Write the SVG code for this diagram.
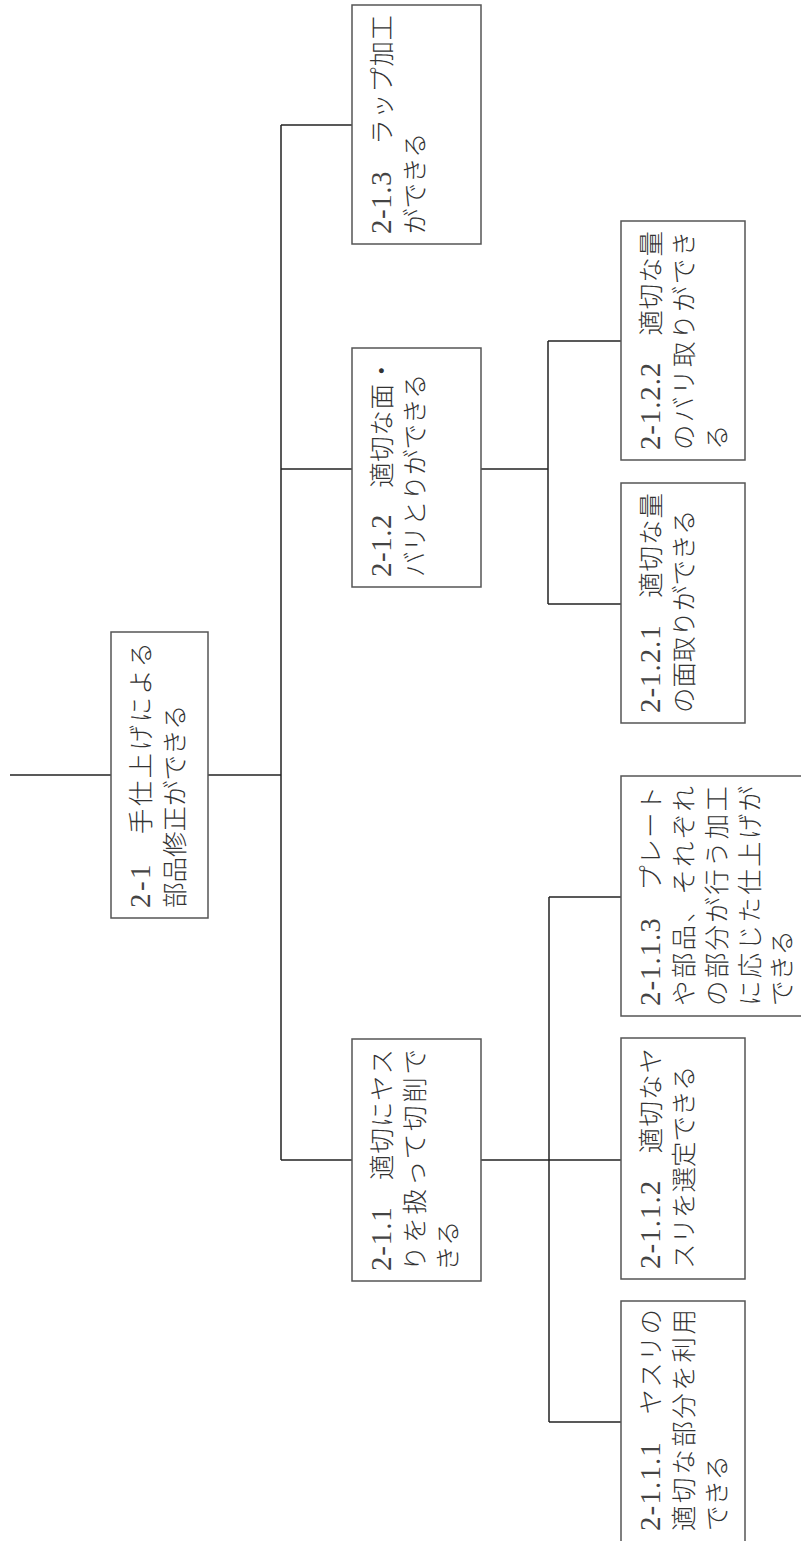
<svg xmlns="http://www.w3.org/2000/svg" width="801" height="1541" viewBox="0 0 801 1541">
<style>
.box{fill:#fff;stroke:#555;stroke-width:1.5}
.conn line{stroke:#222;stroke-width:1.5;fill:none}
text{font-family:"Noto Sans CJK JP","Liberation Serif",sans-serif;font-size:25.5px;font-weight:300;fill:#333}
.n{font-family:"Liberation Serif",serif;font-size:29px;font-weight:300;fill:#444}
</style>
<rect width="801" height="1541" fill="#fff"/>
<g id="connectors" class="conn">
<line x1="10" y1="775" x2="111" y2="775"/>
<line x1="208" y1="775" x2="281" y2="775"/>
<line x1="281" y1="125" x2="281" y2="1160"/>
<line x1="281" y1="125" x2="352" y2="125"/>
<line x1="281" y1="469" x2="352" y2="469"/>
<line x1="281" y1="1160" x2="352" y2="1160"/>
<line x1="481" y1="469" x2="548" y2="469"/>
<line x1="548" y1="341" x2="548" y2="604"/>
<line x1="548" y1="341" x2="621" y2="341"/>
<line x1="548" y1="604" x2="621" y2="604"/>
<line x1="481" y1="1160" x2="621" y2="1160"/>
<line x1="549" y1="897" x2="549" y2="1422"/>
<line x1="549" y1="897" x2="621" y2="897"/>
<line x1="549" y1="1422" x2="621" y2="1422"/>
</g>
<g id="n2-1">
<rect class="box" x="111" y="632" width="97" height="286"/>
<text transform="rotate(-90)" x="-908" y="149.7" textLength="266" lengthAdjust="spacing"><tspan class="n">2-1</tspan>　手仕上げによる</text>
<text transform="rotate(-90)" x="-908" y="183.7">部品修正ができる</text>
</g>
<g id="n2-1-3">
<rect class="box" x="352" y="5" width="129" height="239"/>
<text transform="rotate(-90)" x="-234" y="390.7" textLength="219" lengthAdjust="spacing"><tspan class="n">2-1.3</tspan>　ラップ加工</text>
<text transform="rotate(-90)" x="-234" y="423.7">ができる</text>
</g>
<g id="n2-1-2">
<rect class="box" x="352" y="348" width="129" height="239"/>
<text transform="rotate(-90)" x="-577" y="390.7" textLength="219" lengthAdjust="spacing"><tspan class="n">2-1.2</tspan>　適切な面・</text>
<text transform="rotate(-90)" x="-577" y="423.7">バリとりができる</text>
</g>
<g id="n2-1-1">
<rect class="box" x="352" y="1039" width="129" height="242"/>
<text transform="rotate(-90)" x="-1271" y="390.7" textLength="222" lengthAdjust="spacing"><tspan class="n">2-1.1</tspan>　適切にヤス</text>
<text transform="rotate(-90)" x="-1271" y="423.7" textLength="222" lengthAdjust="spacing">りを扱って切削で</text>
<text transform="rotate(-90)" x="-1271" y="456.7">きる</text>
</g>
<g id="n2-1-2-2">
<rect class="box" x="621" y="221" width="124" height="239"/>
<text transform="rotate(-90)" x="-450" y="659.7" textLength="219" lengthAdjust="spacing"><tspan class="n">2-1.2.2</tspan>　適切な量</text>
<text transform="rotate(-90)" x="-450" y="692.7" textLength="219" lengthAdjust="spacing">のバリ取りができ</text>
<text transform="rotate(-90)" x="-450" y="725.7">る</text>
</g>
<g id="n2-1-2-1">
<rect class="box" x="621" y="483" width="124" height="240"/>
<text transform="rotate(-90)" x="-713" y="659.7" textLength="220" lengthAdjust="spacing"><tspan class="n">2-1.2.1</tspan>　適切な量</text>
<text transform="rotate(-90)" x="-713" y="692.7">の面取りができる</text>
</g>
<g id="n2-1-1-3">
<rect class="box" x="621" y="776" width="190" height="240"/>
<text transform="rotate(-90)" x="-1006" y="659.7" textLength="220" lengthAdjust="spacing"><tspan class="n">2-1.1.3</tspan>　プレート</text>
<text transform="rotate(-90)" x="-1006" y="692.7" textLength="220" lengthAdjust="spacing">や部品、それぞれ</text>
<text transform="rotate(-90)" x="-1006" y="725.7" textLength="220" lengthAdjust="spacing">の部分が行う加工</text>
<text transform="rotate(-90)" x="-1006" y="758.7" textLength="220" lengthAdjust="spacing">に応じた仕上げが</text>
<text transform="rotate(-90)" x="-1006" y="790.7">できる</text>
</g>
<g id="n2-1-1-2">
<rect class="box" x="621" y="1038" width="124" height="241"/>
<text transform="rotate(-90)" x="-1269" y="659.7" textLength="221" lengthAdjust="spacing"><tspan class="n">2-1.1.2</tspan>　適切なヤ</text>
<text transform="rotate(-90)" x="-1269" y="692.7">スリを選定できる</text>
</g>
<g id="n2-1-1-1">
<rect class="box" x="621" y="1301" width="124" height="250"/>
<text transform="rotate(-90)" x="-1531" y="659.7" textLength="222" lengthAdjust="spacing"><tspan class="n">2-1.1.1</tspan>　ヤスリの</text>
<text transform="rotate(-90)" x="-1531" y="692.7" textLength="222" lengthAdjust="spacing">適切な部分を利用</text>
<text transform="rotate(-90)" x="-1531" y="725.7">できる</text>
</g>
</svg>
